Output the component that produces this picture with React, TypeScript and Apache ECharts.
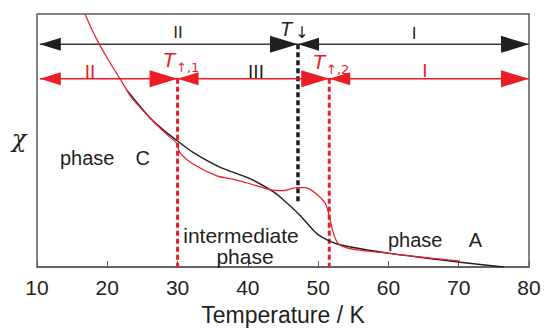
import React, { useEffect, useRef } from "react";
import * as echarts from "echarts";

// Temperature (K) vs susceptibility chi (arbitrary units, 0..100)
const redCurve: [number, number][] = [
  [16.83, 100], [17.82, 93.8], [18.96, 87.6], [20.24, 81.4], [21.81, 74.4],
  [23.51, 66.7], [26.08, 58.9], [28.49, 52.3], [29.9, 48.8], [30.3, 45.3],
  [32.2, 40.7], [35.6, 36.0], [37.5, 34.9], [40.3, 32.9], [43.1, 30.6],
  [45.0, 30.2], [47.0, 31.4], [48.1, 31.4], [51.0, 25.2], [52.96, 8.9],
  [60.2, 5.4], [70.2, 2.3],
];
const blackCurve: [number, number][] = [
  [22.8, 69.8], [26.1, 58.9], [28.4, 53.2], [29.9, 50.0], [32.2, 45.3],
  [36.0, 39.5], [40.3, 34.9], [43.6, 29.8], [45.0, 26.7], [47.4, 20.5],
  [49.98, 12.8], [52.96, 8.9], [60.2, 5.4], [70.2, 1.9], [76.4, 0],
];

// Transition temperatures
const T_DOWN = 47.13;
const T_UP1 = 30.0;
const T_UP2 = 51.58;
const X_LEFT_TIP = 10.4;
const X_MIN = 10;
const X_MAX = 80;
const X_TICK = 10;

// Arrow rows (chi units)
const BLACK_ROW = 88.0;
const RED_ROW = 74.4;
const BLACK_DASH_END = 24.8;

// Arrowheads: [tip x, row, direction]
const blackHeads: [number, number, number][] = [
  [X_LEFT_TIP, BLACK_ROW, -1], [T_DOWN, BLACK_ROW, 1], [T_DOWN, BLACK_ROW, -1], [X_MAX, BLACK_ROW, 1],
];
const redHeads: [number, number, number][] = [
  [X_LEFT_TIP, RED_ROW, -1], [T_UP1, RED_ROW, 1], [T_UP1, RED_ROW, -1],
  [T_UP2, RED_ROW, 1], [T_UP2, RED_ROW, -1], [X_MAX, RED_ROW, 1],
];

const RED = "#ec1c24";
const BLACK = "#231f20";
const GRAY = "#5a5a5a";
const SANS = '"Liberation Sans", Arial, sans-serif';
const ARROWFONT = '"DejaVu Sans", sans-serif';

function headSeries(data: [number, number, number][], color: string) {
  return {
    type: "custom",
    data,
    encode: { x: 0, y: 1 },
    z: 5,
    renderItem: (_p: any, api: any) => {
      const p = api.coord([api.value(0), api.value(1)]);
      const dir = api.value(2);
      const len = dir > 0 ? 28 : 21;
      const h = dir > 0 ? 8.5 : 6.5;
      return {
        type: "polygon",
        shape: { points: [[p[0], p[1]], [p[0] - dir * len, p[1] - h], [p[0] - dir * len, p[1] + h]] },
        style: { fill: color },
      };
    },
  };
}

function txt(text: string, x: number, y: number, size: number, color: string, opts: any = {}) {
  const font = `${opts.italic ? "italic " : ""}${size}px ${opts.family || SANS}`;
  return {
    type: "text",
    x,
    y,
    z: 100,
    style: {
      text,
      fill: color,
      font,
      textAlign: opts.align || "center",
      textVerticalAlign: "middle",
      align: opts.align || "center",
      verticalAlign: "middle",
    },
  };
}

export default function App() {
  const ref = useRef<HTMLDivElement>(null);
  useEffect(() => {
    if (!ref.current) return;
    document.body.style.margin = "0";
    const chart = echarts.init(ref.current, undefined, { renderer: "svg" });
    chart.setOption({
      animation: false,
      grid: { left: 37, right: 15, top: 14, bottom: 59, show: true, borderColor: GRAY, borderWidth: 1.5, backgroundColor: "transparent" },
      xAxis: {
        type: "value",
        min: X_MIN,
        max: X_MAX,
        interval: X_TICK,
        name: "Temperature / K",
        nameLocation: "middle",
        nameGap: 36,
        nameTextStyle: { fontFamily: SANS, fontSize: 23, color: BLACK },
        axisLine: { show: true, lineStyle: { color: GRAY, width: 1.5 } },
        axisTick: { show: true, inside: true, length: 6, lineStyle: { color: GRAY, width: 1 } },
        axisLabel: { fontFamily: SANS, fontSize: 21, color: BLACK, margin: 10 },
        splitLine: { show: false },
      },
      yAxis: {
        type: "value",
        min: 0,
        max: 100,
        axisLine: { show: false },
        axisTick: { show: false },
        axisLabel: { show: false },
        splitLine: { show: false },
      },
      series: [
        { type: "line", data: [[X_LEFT_TIP, BLACK_ROW], [X_MAX, BLACK_ROW]], symbol: "none", lineStyle: { color: "#3a3a3a", width: 1.5 }, z: 4 },
        { type: "line", data: [[X_LEFT_TIP, RED_ROW], [X_MAX, RED_ROW]], symbol: "none", lineStyle: { color: RED, width: 1.3 }, z: 4 },
        { type: "line", data: [[T_UP1, RED_ROW], [T_UP1, 0]], symbol: "none", lineStyle: { color: RED, width: 3, type: [5, 3] }, z: 3 },
        { type: "line", data: [[T_UP2, RED_ROW], [T_UP2, 0]], symbol: "none", lineStyle: { color: RED, width: 3, type: [5, 3] }, z: 3 },
        { type: "line", data: [[T_DOWN, BLACK_ROW], [T_DOWN, BLACK_DASH_END]], symbol: "none", lineStyle: { color: BLACK, width: 3.5, type: [5, 3] }, z: 3 },
        { type: "line", data: blackCurve, symbol: "none", smooth: 0.25, lineStyle: { color: BLACK, width: 1.4 }, z: 6 },
        { type: "line", data: redCurve, symbol: "none", smooth: 0.25, lineStyle: { color: RED, width: 1.2 }, z: 7 },
        headSeries(blackHeads, BLACK),
        headSeries(redHeads, RED),
      ],
      graphic: [
        txt("χ", 19, 139, 24, BLACK, { italic: true, family: '"DejaVu Serif", serif' }),
        txt("II", 178, 32, 17, BLACK),
        txt("I", 414, 33, 17, BLACK),
        txt("T", 286, 29, 20, BLACK, { italic: true }),
        txt("↓", 302, 32, 16, BLACK, { family: ARROWFONT }),
        txt("II", 90, 71, 19, RED),
        txt("III", 256, 71, 19, BLACK),
        txt("I", 425, 70, 19, RED),
        txt("T", 169, 59, 21, RED, { italic: true }),
        txt("↑,1", 176, 67, 13, RED, { family: ARROWFONT, align: "left" }),
        txt("T", 319, 61, 21, RED, { italic: true }),
        txt("↑,2", 326, 69, 13, RED, { family: ARROWFONT, align: "left" }),
        txt("phase", 60, 158, 20, BLACK, { align: "left" }),
        txt("C", 150, 158, 20, BLACK, { align: "right" }),
        txt("intermediate", 241, 235, 21, BLACK),
        txt("phase", 245, 256, 21, BLACK),
        txt("phase", 388, 240, 20, BLACK, { align: "left" }),
        txt("A", 482, 240, 20, BLACK, { align: "right" }),
      ],
    });
    return () => chart.dispose();
  }, []);
  return <div ref={ref} style={{ width: 544, height: 331 }} />;
}
